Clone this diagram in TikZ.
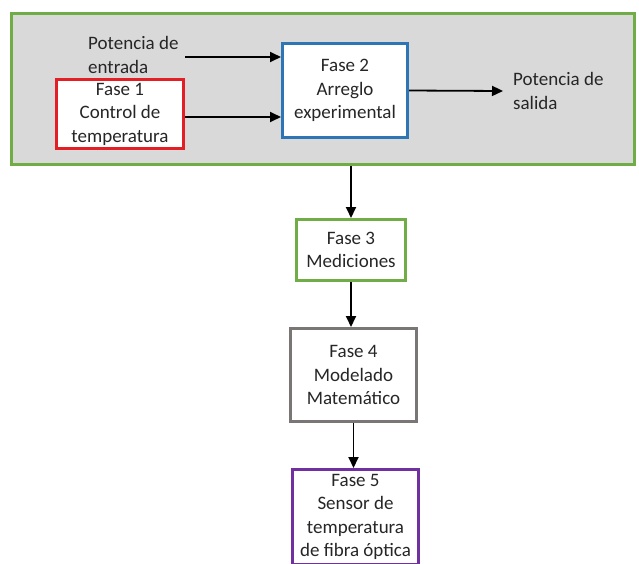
\documentclass[tikz,border=0pt]{standalone}
\usepackage{fontspec}
\setmainfont{Carlito}
\usepackage{tikz}
\usetikzlibrary{arrows.meta,positioning,calc}
\definecolor{cGreen}{HTML}{70AD47}
\definecolor{cBlue}{HTML}{2E75B6}
\definecolor{cRed}{HTML}{E31E24}
\definecolor{cGray}{HTML}{7A7676}
\definecolor{cPurple}{HTML}{7030A0}
\definecolor{cFill}{HTML}{D9D9D9}
\tikzset{
  fase/.style={draw=#1,fill=white,line width=3pt,align=center,inner sep=0pt,text=black!85},
  fase/.default=cBlue,
  txt/.style={align=left,inner sep=0pt,text=black!85},
  arr/.style={-{Triangle[length=11pt,width=10pt]},line width=1.8pt,color=black},
}

\begin{document}
\begin{tikzpicture}[x=1pt,y=-1pt,font=\fontsize{19}{23.5}\selectfont]
        \useasboundingbox (0,0) rectangle (639,563);
        % stage frame
        \node[draw=cGreen,fill=cFill,line width=3pt,minimum width=623pt,minimum height=151pt,inner sep=0pt] (frame) at (323,89) {};
        % phases
        \node[fase=cRed,minimum width=127pt,minimum height=69pt] (fase1) at (120,114) {Fase 1\\Control de\\temperatura};
        \node[fase=cBlue,minimum width=125pt,minimum height=94pt] (fase2) at (345,90.5) {Fase 2\\Arreglo\\experimental};
        \node[fase=cGreen,minimum width=109pt,minimum height=61pt] (fase3) at (351,250) {Fase 3\\Mediciones};
        \node[fase=cGray,minimum width=126pt,minimum height=93pt] (fase4) at (353.5,375) {Fase 4\\Modelado\\Matemático};
        \node[fase=cPurple,minimum width=126pt,minimum height=95pt] (fase5) at (355.5,517) {Fase 5\\Sensor de\\temperatura\\de fibra óptica};
        % in / out labels
        \node[txt,anchor=west] (pin) at (88,55) {Potencia de\\entrada};
        \node[txt,anchor=west] (pout) at (513,91) {Potencia de\\salida};
        % connectors
        \draw[arr] (185,57) coordinate (pinend) -- (pinend -| fase2.west);
        \draw[arr] (fase1.east |- 0,117) coordinate (f1end) -- (f1end -| fase2.west);
        \draw[arr] (fase2.east) -- ($(pout.west)+(-10,0)$);
        \draw[arr] (frame.south -| fase3) -- (fase3.north);
        \draw[arr] (fase3.south) -- (fase3.south |- fase4.north);
        \draw[arr] (fase4.south) -- (fase4.south |- fase5.north);
      \end{tikzpicture}
\end{document}
